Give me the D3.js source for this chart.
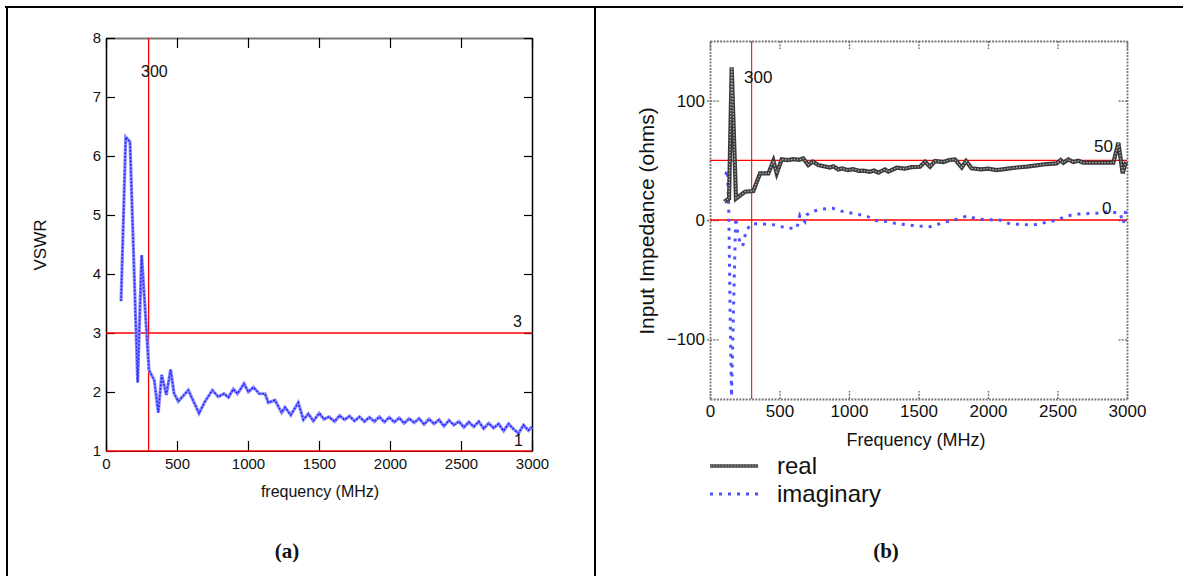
<!DOCTYPE html>
<html>
<head>
<meta charset="utf-8">
<script src="https://cdn.jsdelivr.net/npm/d3@7"></script>
<style>
  body { margin: 0; background: #fff; }
  text { font-family: "Liberation Sans", Arial, sans-serif; fill: #111; }
</style>
</head>
<body>
<script>
// (a) VSWR vs frequency
const vswrFreq = [106, 139, 169, 223, 251, 303, 340, 368, 392, 425, 455, 479, 509, 580, 655, 697,
  749, 791, 831, 862, 897, 925, 972, 1003, 1038, 1080, 1120, 1143, 1190, 1237, 1261, 1301, 1354,
  1390, 1425, 1460, 1502, 1535, 1570, 1610, 1645, 1680, 1715, 1750, 1785, 1820, 1855, 1890, 1925,
  1960, 1995, 2030, 2065, 2100, 2135, 2170, 2205, 2240, 2275, 2310, 2345, 2380, 2415, 2450, 2485,
  2520, 2555, 2590, 2625, 2660, 2695, 2730, 2765, 2800, 2835, 2870, 2905, 2940, 2975, 3000];
const vswrValues = [3.54, 6.32, 6.24, 2.16, 4.32, 2.37, 2.20, 1.65, 2.29, 1.95, 2.38, 1.98, 1.84, 2.03,
  1.64, 1.84, 2.03, 1.92, 1.97, 1.91, 2.05, 1.97, 2.14, 2.00, 2.08, 1.97, 1.97, 1.82, 1.86, 1.65, 1.74,
  1.61, 1.82, 1.53, 1.63, 1.51, 1.64, 1.54, 1.58, 1.50, 1.60, 1.53, 1.59, 1.51, 1.58, 1.50, 1.57, 1.50,
  1.58, 1.49, 1.57, 1.49, 1.56, 1.47, 1.55, 1.48, 1.55, 1.45, 1.54, 1.46, 1.53, 1.42, 1.52, 1.44, 1.50,
  1.40, 1.49, 1.41, 1.50, 1.38, 1.47, 1.39, 1.46, 1.34, 1.46, 1.37, 1.30, 1.44, 1.35, 1.41];

// (b) input impedance
const realFreq = [103, 137, 156, 187, 252, 312, 360, 420, 456, 480, 516, 560, 600, 640, 671, 707, 739,
  779, 863, 887, 923, 950, 990, 1030, 1070, 1103, 1150, 1180, 1211, 1259, 1283, 1343, 1400, 1450,
  1511, 1547, 1583, 1619, 1680, 1720, 1763, 1811, 1842, 1882, 1950, 2000, 2063, 2130, 2207, 2280,
  2362, 2422, 2494, 2523, 2542, 2578, 2614, 2650, 2686, 2800, 2902, 2938, 2969, 2993];
const realValues = [15.3, 18, 128, 18, 23.7, 24.3, 39, 39, 49.6, 39, 50.8, 50.2, 51, 50.4, 51.6, 46, 49,
  46, 44, 45, 42.4, 43.2, 41.8, 42.6, 41.2, 41.3, 40.4, 41.4, 39.6, 42.4, 40.5, 43.8, 43, 44.3,
  44.6, 48.8, 44.6, 49.4, 48.6, 50.3, 50.8, 44, 49.4, 43.3, 42.4, 43.1, 41.8, 42.9, 44, 44.8,
  46, 46.9, 47.4, 50.2, 48, 50.8, 48.5, 49.6, 48, 48, 48, 64.7, 39, 48.8];
const imagFreq = [113, 125, 135, 145, 155, 170, 185, 200, 215, 235, 250, 265, 300, 384, 480, 552, 624,
  647, 683, 695, 731, 803, 882, 959, 1055, 1127, 1199, 1260, 1331, 1487, 1583, 1703, 1775, 1847,
  1931, 2086, 2158, 2326, 2410, 2494, 2566, 2638, 2782, 2878, 2950, 2974, 2998];
const imagValues = [38, 42, 10, -80, -148, -70, 2, -12, -18, -22, -14, -8, -3, -3.3, -4.2, -7, -7,
  4.2, -1.4, 4.2, 7, 9.2, 9.8, 7, 5, 3.3, -0.6, -1, -2.8, -5, -5.6, -1.4, 0.6, 3.3,
  0.6, 0, -3.3, -4.2, -2.2, 0, 3.3, 5, 5.6, 7, 5.6, -2.8, 12];

const freqTicks = [0, 500, 1000, 1500, 2000, 2500, 3000];
const vswrTicks = [1, 2, 3, 4, 5, 6, 7, 8];
const impTicks = [-100, 0, 100];
const fmt = d3.format('d');

const svg = d3.select('body').append('svg')
  .attr('width', 1183)
  .attr('height', 576);

// table frame
svg.append('line').attr('x1', 5).attr('x2', 1183).attr('y1', 7).attr('y2', 7)
  .attr('stroke', '#000').attr('stroke-width', 2);
svg.append('line').attr('x1', 7).attr('x2', 7).attr('y1', 6).attr('y2', 576)
  .attr('stroke', '#000').attr('stroke-width', 2);
svg.append('line').attr('x1', 595).attr('x2', 595).attr('y1', 6).attr('y2', 576)
  .attr('stroke', '#000').attr('stroke-width', 2);

// ---------- (a) ----------
const xa = d3.scaleLinear().domain([0, 3000]).range([106, 532]);
const ya = d3.scaleLinear().domain([1, 8]).range([451, 38]);
const ga = svg.append('g');

const styleAxis = (g, colour, width) => {
  g.select('.domain').attr('stroke', colour).attr('stroke-width', width);
  g.selectAll('.tick line').attr('stroke', '#000').attr('stroke-width', 1.2);
  g.selectAll('.tick text').style('font-family', '"Liberation Sans", Arial, sans-serif')
    .style('font-size', '15px').attr('fill', '#111');
};

ga.append('g').attr('transform', 'translate(0,451)')
  .call(d3.axisBottom(xa).tickValues(freqTicks).tickFormat(fmt).tickSize(-10).tickSizeOuter(0).tickPadding(7))
  .call((g) => styleAxis(g, '#000', 1.2));
ga.append('g').attr('transform', 'translate(0,38)')
  .call(d3.axisTop(xa).tickValues(freqTicks).tickSize(-10).tickSizeOuter(0).tickFormat(''))
  .call((g) => styleAxis(g, '#777', 2.2));
ga.append('g').attr('transform', 'translate(106,0)')
  .call(d3.axisLeft(ya).tickValues(vswrTicks).tickFormat(fmt).tickSize(-9).tickSizeOuter(0).tickPadding(5))
  .call((g) => styleAxis(g, '#000', 1.5));
ga.append('g').attr('transform', 'translate(532,0)')
  .call(d3.axisRight(ya).tickValues(vswrTicks).tickSize(-8).tickSizeOuter(0).tickFormat(''))
  .call((g) => styleAxis(g, '#000', 1.5));

// reference lines
ga.append('line').attr('x1', xa(300)).attr('x2', xa(300)).attr('y1', ya(8)).attr('y2', ya(1))
  .attr('stroke', '#ff0000').attr('stroke-width', 1.3);
[3, 1].forEach((v) => {
  ga.append('line').attr('x1', xa(0)).attr('x2', xa(3000)).attr('y1', ya(v)).attr('y2', ya(v))
    .attr('stroke', '#ff0000').attr('stroke-width', 1.3);
});

const vswrPts = vswrFreq.map((f, i) => [f, vswrValues[i]]);
const lineA = d3.line().x((d) => xa(d[0])).y((d) => ya(d[1]));
ga.append('path').datum(vswrPts).attr('d', lineA)
  .attr('fill', 'none').attr('stroke', '#8a8aff').attr('stroke-width', 3.2);
ga.append('path').datum(vswrPts).attr('d', lineA)
  .attr('fill', 'none').attr('stroke', '#2525ff').attr('stroke-width', 1.5)
  .attr('stroke-dasharray', '2,1.5');

ga.append('text').attr('x', 141).attr('y', 77).style('font-size', '16px').text('300');
ga.append('text').attr('x', 513).attr('y', 327).style('font-size', '16px').text('3');
ga.append('text').attr('x', 514).attr('y', 446).style('font-size', '16px').text('1');

ga.append('text').attr('transform', 'translate(46,245) rotate(-90)')
  .attr('text-anchor', 'middle').style('font-size', '17px').text('VSWR');
ga.append('text').attr('x', 320).attr('y', 497)
  .attr('text-anchor', 'middle').style('font-size', '16px').text('frequency (MHz)');
ga.append('text').attr('x', 287).attr('y', 558)
  .attr('text-anchor', 'middle')
  .style('font-family', '"Liberation Serif", "Times New Roman", serif')
  .style('font-weight', 'bold').style('font-size', '21px').text('(a)');

// ---------- (b) ----------
const xb = d3.scaleLinear().domain([0, 3000]).range([710, 1127]);
const yb = d3.scaleLinear().domain([-150, 150]).range([399, 41]);
const gb = svg.append('g');

const dashAxis = (g) => {
  g.select('.domain').attr('stroke', '#777').attr('stroke-width', 1.8).attr('stroke-dasharray', '2,1.2');
  g.selectAll('.tick line').attr('stroke', '#666').attr('stroke-width', 1.3).attr('stroke-dasharray', '2,1.2');
  g.selectAll('.tick text').style('font-family', '"Liberation Sans", Arial, sans-serif')
    .style('font-size', '17px').attr('fill', '#111');
};

gb.append('g').attr('transform', 'translate(0,399)')
  .call(d3.axisBottom(xb).tickValues(freqTicks).tickFormat(fmt).tickSize(-8).tickSizeOuter(0).tickPadding(6))
  .call(dashAxis);
gb.append('g').attr('transform', 'translate(0,41)')
  .call(d3.axisTop(xb).tickValues(freqTicks).tickSize(-8).tickSizeOuter(0).tickFormat(''))
  .call(dashAxis);
gb.append('g').attr('transform', 'translate(710,0)')
  .call(d3.axisLeft(yb).tickValues(impTicks).tickFormat(fmt).tickSize(-9).tickSizeOuter(0).tickPadding(5))
  .call(dashAxis)
  .selectAll('.tick line').attr('x1', -3);
gb.append('g').attr('transform', 'translate(1127,0)')
  .call(d3.axisRight(yb).tickValues(impTicks).tickSize(-9).tickSizeOuter(0).tickFormat(''))
  .call(dashAxis);

[50, 0].forEach((v) => {
  gb.append('line').attr('x1', xb(0)).attr('x2', xb(3000)).attr('y1', yb(v)).attr('y2', yb(v))
    .attr('stroke', '#ff0000').attr('stroke-width', 1.3);
});
gb.append('line').attr('x1', xb(300)).attr('x2', xb(300)).attr('y1', yb(150)).attr('y2', yb(-150))
  .attr('stroke', '#e00000').attr('stroke-width', 1);

const lineB = d3.line().x((d) => xb(d[0])).y((d) => yb(d[1]));
const realPts = realFreq.map((f, i) => [f, realValues[i]]);
const imagPts = imagFreq.map((f, i) => [f, imagValues[i]]);

gb.append('path').datum(imagPts).attr('d', lineB)
  .attr('fill', 'none').attr('stroke', '#5050ff').attr('stroke-width', 3)
  .attr('stroke-dasharray', '3,6');
gb.append('path').datum(realPts).attr('d', lineB)
  .attr('fill', 'none').attr('stroke', '#3a3a3a').attr('stroke-width', 4.2);
gb.append('path').datum(realPts).attr('d', lineB)
  .attr('fill', 'none').attr('stroke', '#b0b0b0').attr('stroke-width', 1.3)
  .attr('stroke-dasharray', '1.5,1.5');

gb.append('text').attr('x', 744).attr('y', 83).style('font-size', '17px').text('300');
gb.append('text').attr('x', 1094).attr('y', 152).style('font-size', '17px').text('50');
gb.append('text').attr('x', 1102).attr('y', 214).style('font-size', '17px').text('0');

gb.append('text').attr('transform', 'translate(654,221) rotate(-90)')
  .attr('text-anchor', 'middle').style('font-size', '21px').text('Input Impedance (ohms)');
gb.append('text').attr('x', 916).attr('y', 446)
  .attr('text-anchor', 'middle').style('font-size', '18px').text('Frequency (MHz)');

// legend
const legendItems = ['real', 'imaginary'];
const legend = gb.append('g').selectAll('g').data(legendItems).join('g')
  .attr('transform', (d, i) => `translate(710,${466 + i * 28})`);
legend.each((d, i, n) => {
  const item = d3.select(n[i]);
  if (d === 'real') {
    item.append('line').attr('x2', 48).attr('stroke', '#444').attr('stroke-width', 3.5);
    item.append('line').attr('x2', 48).attr('stroke', '#b0b0b0').attr('stroke-width', 1.2)
      .attr('stroke-dasharray', '1.5,1.5');
  } else {
    item.append('line').attr('x2', 48).attr('stroke', '#5050ff').attr('stroke-width', 3)
      .attr('stroke-dasharray', '3,6');
  }
  item.append('text').attr('x', 67).attr('y', 8).style('font-size', '24px').text(d);
});

gb.append('text').attr('x', 886).attr('y', 558)
  .attr('text-anchor', 'middle')
  .style('font-family', '"Liberation Serif", "Times New Roman", serif')
  .style('font-weight', 'bold').style('font-size', '21px').text('(b)');
</script>
</body>
</html>
